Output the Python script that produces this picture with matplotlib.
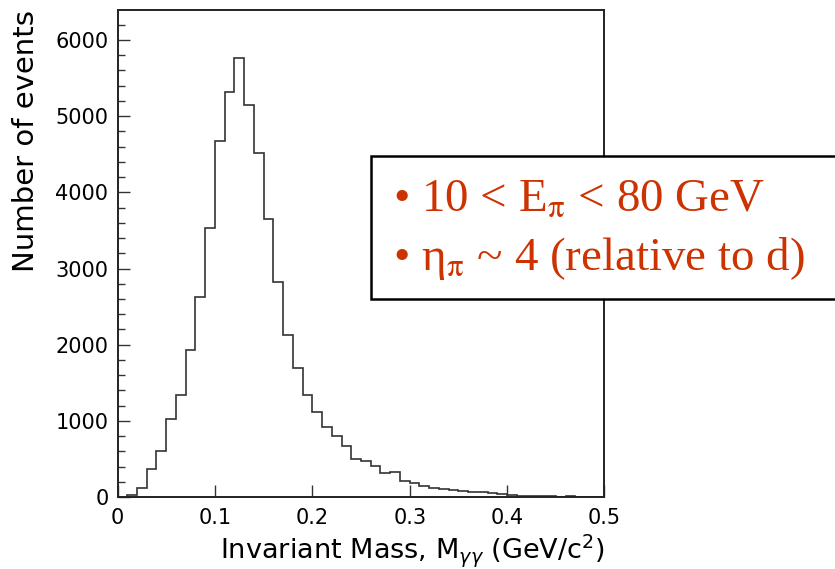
import matplotlib
matplotlib.use("Agg")
import matplotlib.pyplot as plt
from matplotlib.patches import Rectangle
from matplotlib.ticker import MultipleLocator, FixedLocator, FixedFormatter
import numpy as np

# ---- data (50 bins of width 0.01 GeV/c^2) ----
bin_edges = [round(0.01 * i, 2) for i in range(51)]
counts = [3, 20, 120, 364, 600, 1020, 1345, 1932, 2628, 3535,
          4669, 5318, 5760, 5147, 4511, 3653, 2821, 2133, 1699, 1345,
          1112, 922, 804, 674, 497, 478, 405, 311, 333, 210,
          184, 145, 123, 105, 92, 74, 70, 60, 55, 42,
          30, 12, 10, 10, 8, 0, 10, 0, 0, 0]
x_ticks = [0, 0.1, 0.2, 0.3, 0.4, 0.5]
x_tick_labels = ["0", "0.1", "0.2", "0.3", "0.4", "0.5"]
y_ticks = [0, 1000, 2000, 3000, 4000, 5000, 6000]
y_tick_labels = ["0", "1000", "2000", "3000", "4000", "5000", "6000"]
x_title = r"Invariant Mass, M$_{\gamma\gamma}$ (GeV/c$^{2}$)"
y_title = "Number of events"
note_lines = [r"• 10 < E$_{\mathrm{π}}$ < 80 GeV",
              r"• η$_{\mathrm{π}}$ ~ 4 (relative to d)"]

W, H = 835, 569
fig = plt.figure(figsize=(W / 100, H / 100), dpi=100)
fig.patch.set_facecolor("white")

L, R, T, B = 117.5, 604.5, 10.3, 497.0
ax = fig.add_axes([L / W, 1 - B / H, (R - L) / W, (B - T) / H])

ax.stairs(counts, bin_edges, color="#333333", linewidth=1.2)

ax.set_xlim(0, 0.5)
ax.set_ylim(0, 6390)
ax.xaxis.set_major_locator(FixedLocator(x_ticks))
ax.xaxis.set_major_formatter(FixedFormatter(x_tick_labels))
ax.yaxis.set_major_locator(FixedLocator(y_ticks))
ax.yaxis.set_major_formatter(FixedFormatter(y_tick_labels))
ax.yaxis.set_minor_locator(MultipleLocator(200))

ax.tick_params(axis="both", which="both", direction="in", colors="#333333",
               labelcolor="black", top=False, right=False)
ax.tick_params(axis="both", which="major", length=8.6, width=1.0, labelsize=15)
ax.tick_params(axis="y", which="minor", length=5, width=1.0)
ax.tick_params(axis="y", which="major", pad=6.5)
ax.tick_params(axis="x", which="major", pad=8)

for s in ax.spines.values():
    s.set_color("#222222")
    s.set_linewidth(1.4)

ax.set_xlabel(x_title, fontsize=19.5, loc="right", labelpad=3)
ax.set_ylabel(y_title, fontsize=21, loc="top")
ax.yaxis.set_label_coords((40 - L) / (R - L), 1.0)

# ---- annotation box ----
box_l, box_t, box_b = 371, 155.7, 299.3
rect = Rectangle((box_l / W, 1 - box_b / H), (W + 10 - box_l) / W, (box_b - box_t) / H,
                 transform=fig.transFigure, facecolor="white", edgecolor="black",
                 linewidth=1.8, clip_on=False, zorder=5)
fig.patches.append(rect)

txt_color = "#CC3300"
baselines = [211.7, 270.0]
for line, yb in zip(note_lines, baselines):
    fig.text(393 / W, 1 - yb / H, line, fontsize=33.8, family="Liberation Serif",
             math_fontfamily="stix", color=txt_color, va="baseline", ha="left",
             zorder=6)

fig.savefig("out.png", dpi=100)
